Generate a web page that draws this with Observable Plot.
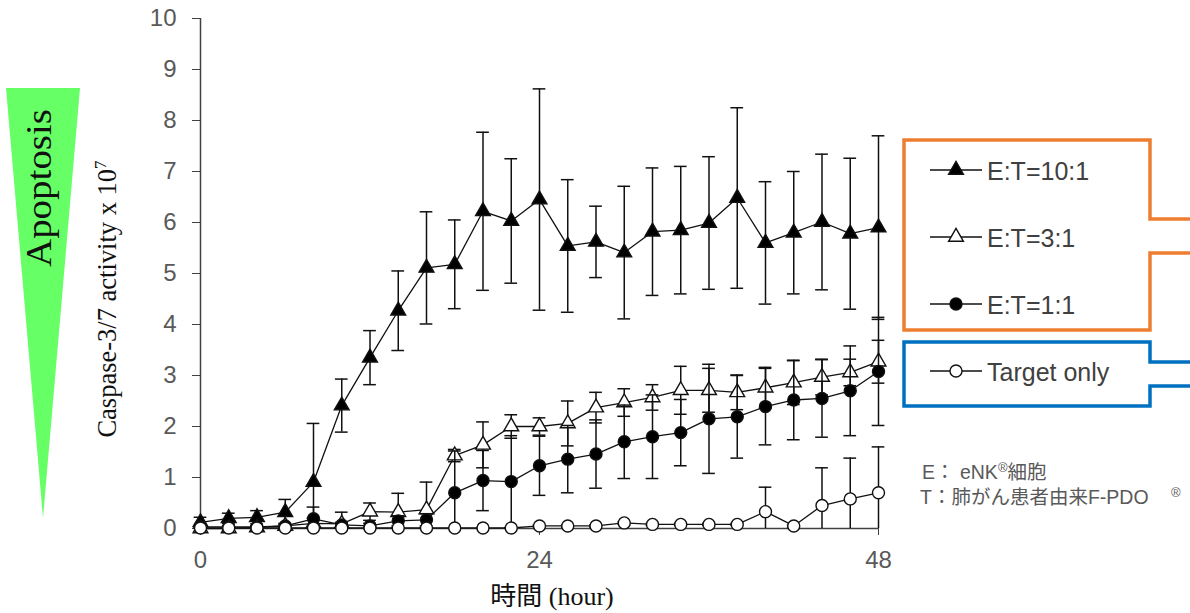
<!DOCTYPE html>
<html><head><meta charset="utf-8">
<script src="https://cdn.jsdelivr.net/npm/d3@7"></script>
<script src="https://cdn.jsdelivr.net/npm/@observablehq/plot@0.6"></script>
<style>
body{margin:0;background:#fff;}
#wrap{position:relative;width:1190px;height:613px;overflow:hidden;background:#fff;}
#wrap svg{position:absolute;left:0;top:0;}
</style></head><body><div id="wrap"></div>
<script>
const hours = [0,2,4,6,8,10,12,14,16,18,20,22,24,26,28,30,32,34,36,38,40,42,44,46,48];
const seriesNames = ["E:T=10:1","E:T=3:1","E:T=1:1","Target only"];
const et10Mean = [0.12,0.20,0.22,0.32,0.91,2.41,3.35,4.27,5.11,5.18,6.22,6.03,6.45,5.54,5.62,5.41,5.82,5.85,5.99,6.48,5.60,5.80,6.01,5.78,5.90];
const et10Sd   = [0.10,0.10,0.13,0.25,1.15,0.52,0.53,0.78,1.10,0.87,1.55,1.22,2.17,1.30,0.70,1.30,1.25,1.25,1.30,1.77,1.20,1.20,1.33,1.48,1.80];
const et3Mean  = [0.00,0.00,0.02,0.05,0.10,0.09,0.33,0.32,0.37,1.43,1.64,2.00,2.00,2.06,2.37,2.47,2.57,2.71,2.71,2.67,2.76,2.86,2.97,3.06,3.27];
const et3Sd    = [0.03,0.03,0.03,0.05,0.10,0.23,0.17,0.37,0.54,0.12,0.45,0.23,0.17,0.44,0.30,0.27,0.25,0.47,0.43,0.34,0.40,0.43,0.35,0.26,0.42];
const et1Mean  = [0.03,0.03,0.03,0.05,0.19,0.07,0.05,0.15,0.17,0.70,0.94,0.92,1.23,1.36,1.46,1.70,1.80,1.88,2.15,2.19,2.39,2.52,2.55,2.70,3.08];
const et1Sd    = [0.02,0.02,0.02,0.03,0.23,0.05,0.05,0.10,0.12,0.82,0.59,0.90,0.58,0.66,0.67,0.72,0.82,0.65,1.07,0.81,0.75,0.78,0.76,0.88,1.06];
const targetMean = [0.01,0.01,0.01,0.01,0.01,0.01,0.01,0.01,0.01,0.01,0.01,0.01,0.05,0.05,0.05,0.11,0.08,0.08,0.08,0.08,0.33,0.05,0.45,0.58,0.70];
const targetSd   = [0.01,0.01,0.01,0.01,0.01,0.01,0.01,0.01,0.01,0.01,0.01,0.01,0.02,0.02,0.02,0.02,0.02,0.02,0.02,0.02,0.48,0.02,0.74,0.80,0.90];
const xTicks = [0,24,48];
const yTicks = [0,1,2,3,4,5,6,7,8,9,10];
const yLabel = "Caspase-3/7 activity x 10";
const yLabelSup = "7";
const xLabelJa = "時間";
const xLabelEn = " (hour)";
const sideLabel = "Apoptosis";
const noteE = ["E：", " eNK", "®", "細胞"];
const noteT = ["T：肺がん患者由来F-PDO", "®"];

const styles = [
  {symbol:"triangle", fill:"black", r:5.5},
  {symbol:"triangle", fill:"white", r:5.5},
  {symbol:"circle", fill:"black", r:6},
  {symbol:"circle", fill:"white", r:6}
];
const series = [
  {name: seriesNames[0], mean: et10Mean, sd: et10Sd},
  {name: seriesNames[1], mean: et3Mean, sd: et3Sd},
  {name: seriesNames[2], mean: et1Mean, sd: et1Sd},
  {name: seriesNames[3], mean: targetMean, sd: targetSd}
];
const capHalf = 0.45;
const ink = "#111";

const marks = [
  Plot.ruleY([0], {stroke:"#404040", strokeWidth:1.5}),
  Plot.ruleX([0], {stroke:"#404040", strokeWidth:1.5}),
  Plot.axisX({ticks: xTicks, tickSize: 7, tickPadding: 15, stroke:"#404040", label: null, fontSize: 24}),
  Plot.axisY({ticks: yTicks, tickSize: 8, tickPadding: 16, stroke:"#404040", label: null, fontSize: 24})
];
series.forEach((s, k) => {
  const st = styles[k];
  const data = hours.map((t, i) => ({t, m: s.mean[i], sd: s.sd[i]}));
  marks.push(Plot.ruleX(data, {x:"t", y1: d => Math.max(0, d.m - d.sd), y2: d => d.m + d.sd, stroke: ink, strokeWidth: 1.5}));
  marks.push(Plot.ruleY(data, {y: d => d.m + d.sd, x1: d => d.t - capHalf, x2: d => d.t + capHalf, stroke: ink, strokeWidth: 1.5}));
  marks.push(Plot.ruleY(data.filter(d => d.m - d.sd >= 0), {y: d => d.m - d.sd, x1: d => d.t - capHalf, x2: d => d.t + capHalf, stroke: ink, strokeWidth: 1.5}));
  marks.push(Plot.line(data, {x:"t", y:"m", stroke: ink, strokeWidth: 1.3}));
  marks.push(Plot.dot(data, {x:"t", y:"m", symbol: st.symbol, r: st.r, fill: st.fill, stroke: ink, strokeWidth: 1.4}));
});

const chart = Plot.plot({
  width: 1190, height: 613,
  marginLeft: 200, marginRight: 312, marginTop: 18, marginBottom: 85,
  x: {domain: [0, 48]},
  y: {domain: [0, 10]},
  style: {fontFamily: "'Liberation Sans', Arial, sans-serif", fontSize: "24px", color: "#595959", background: "transparent", overflow: "visible"},
  marks
});
const wrap = document.getElementById("wrap");

const svg = d3.create("svg").attr("width", 1190).attr("height", 613);
svg.append("path").attr("d", "M6,88 L80,88 L43,518 Z").attr("fill", "#66ff66");
svg.append("text")
  .attr("transform", "translate(51,188) rotate(-90)")
  .attr("text-anchor", "middle")
  .attr("font-family", "'Liberation Serif', 'Times New Roman', serif")
  .attr("font-size", 36).attr("fill", "#111")
  .attr("textLength", 158).attr("lengthAdjust", "spacingAndGlyphs")
  .text(sideLabel);
const yl = svg.append("text")
  .attr("transform", "translate(116,299) rotate(-90)")
  .attr("text-anchor", "middle")
  .attr("font-family", "'Liberation Serif', 'Times New Roman', serif")
  .attr("font-size", 26.5).attr("fill", "#111");
yl.append("tspan").text(yLabel);
yl.append("tspan").attr("dy", -10).attr("font-size", 17).text(yLabelSup);
const xl = svg.append("text")
  .attr("x", 552).attr("y", 605).attr("text-anchor", "middle")
  .attr("font-size", 26).attr("fill", "#111");
xl.append("tspan").attr("font-family", "'Noto Sans CJK JP', sans-serif").text(xLabelJa);
xl.append("tspan").attr("font-family", "'Liberation Serif', 'Times New Roman', serif").text(xLabelEn);
svg.append("path").attr("d", "M1192,219 H1150 V140 H904 V330 H1150 V253 H1192")
  .attr("fill", "none").attr("stroke", "#ed7d31").attr("stroke-width", 3.5);
svg.append("path").attr("d", "M1192,362 H1150 V342 H904 V406 H1150 V386 H1192")
  .attr("fill", "none").attr("stroke", "#0070c0").attr("stroke-width", 3.5);
const rowY = [170, 237, 304, 371];
series.forEach((s, k) => {
  const st = styles[k];
  const y = rowY[k];
  svg.append("line").attr("x1", 930).attr("x2", 982).attr("y1", y).attr("y2", y).attr("stroke", ink).attr("stroke-width", 1.3);
  const sym = d3.symbol(st.symbol === "triangle" ? d3.symbolTriangle : d3.symbolCircle, Math.PI * st.r * st.r);
  svg.append("path").attr("d", sym()).attr("transform", `translate(956,${y})`)
    .attr("fill", st.fill).attr("stroke", ink).attr("stroke-width", 1.4);
  svg.append("text").attr("x", 987).attr("y", y + 9.5)
    .attr("font-family", "'Liberation Sans', Arial, sans-serif").attr("font-size", 25).attr("fill", "#404040")
    .text(s.name);
});
const f1 = svg.append("text").attr("x", 922).attr("y", 479)
  .attr("font-family", "'Liberation Sans', 'Noto Sans CJK JP', sans-serif").attr("font-size", 19.5).attr("fill", "#595959");
f1.append("tspan").text(noteE[0]);
f1.append("tspan").text(noteE[1]);
f1.append("tspan").attr("dy", -7).attr("font-size", 13).text(noteE[2]);
f1.append("tspan").attr("dy", 7).attr("font-family", "'Noto Sans CJK JP', sans-serif").text(noteE[3]);
const f2 = svg.append("text").attr("x", 920).attr("y", 504)
  .attr("font-family", "'Liberation Sans', 'Noto Sans CJK JP', sans-serif").attr("font-size", 19.5).attr("fill", "#595959");
f2.append("tspan").text(noteT[0]);
f2.append("tspan").attr("x", 1171).attr("dy", -7).attr("font-size", 13).text(noteT[1]);

wrap.appendChild(svg.node());
wrap.appendChild(chart);
</script>
</body></html>
